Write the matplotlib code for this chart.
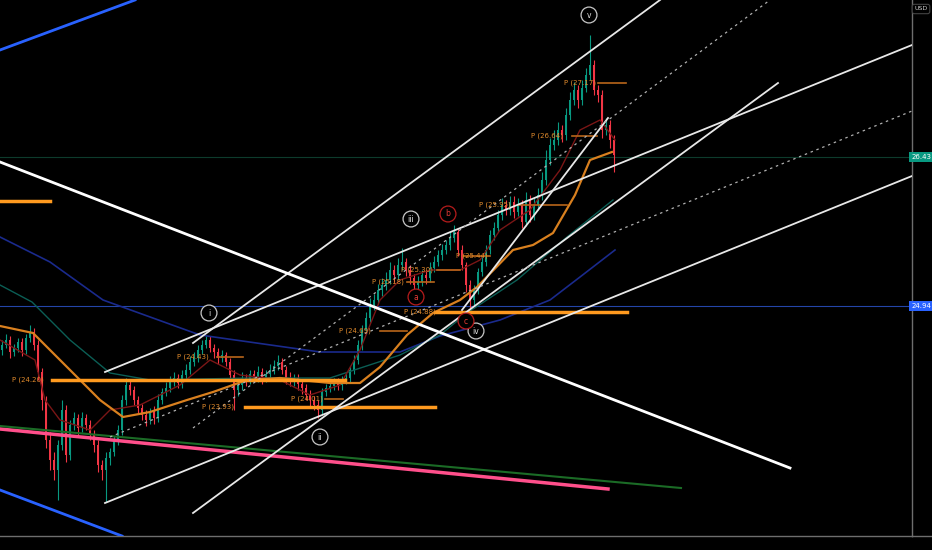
import numpy as np
import matplotlib.pyplot as plt

# candle data (price), one bar every 4 px
closes = [24.55, 24.60, 24.48, 24.52, 24.58, 24.50, 24.62, 24.68, 24.55, 24.28,
          24.00, 23.60, 23.40, 23.30, 23.55, 23.90, 23.45, 23.75, 23.82, 23.72,
          23.82, 23.75, 23.65, 23.55, 23.35, 23.30, 23.42, 23.48, 23.60, 23.70,
          24.00, 24.15, 24.10, 24.00, 23.92, 23.85, 23.80, 23.88, 23.82, 24.00,
          24.08, 24.12, 24.18, 24.22, 24.17, 24.25, 24.30, 24.38, 24.42, 24.50,
          24.55, 24.60, 24.52, 24.48, 24.42, 24.45, 24.38, 24.25, 24.10, 24.15,
          24.22, 24.20, 24.26, 24.22, 24.28, 24.22, 24.26, 24.30, 24.34, 24.38,
          24.30, 24.22, 24.20, 24.22, 24.16, 24.12, 24.05, 24.00, 23.95, 23.90,
          24.08, 24.12, 24.14, 24.18, 24.15, 24.20, 24.22, 24.30, 24.40, 24.55,
          24.70, 24.82, 24.95, 25.00, 25.10, 25.15, 25.20, 25.30, 25.25, 25.35,
          25.38, 25.30, 25.22, 25.15, 25.18, 25.25, 25.22, 25.32, 25.38, 25.45,
          25.50, 25.55, 25.62, 25.68, 25.50, 25.35, 25.15, 25.00, 25.10, 25.28,
          25.38, 25.50, 25.65, 25.72, 25.85, 25.95, 25.90, 25.98, 25.88, 25.95,
          25.78, 26.00, 25.85, 25.95, 26.05, 26.20, 26.40, 26.55, 26.60, 26.70,
          26.65, 26.85, 27.00, 27.10, 27.00, 27.12, 27.25, 27.35, 27.10, 27.05,
          26.70, 26.75, 26.60, 26.45]
highs = [24.60, 24.66, 24.64, 24.56, 24.62, 24.62, 24.66, 24.75, 24.72, 24.60,
         24.32, 24.04, 23.68, 23.48, 23.60, 24.00, 23.95, 23.80, 23.88, 23.86,
         23.88, 23.86, 23.80, 23.70, 23.60, 23.40, 23.48, 23.52, 23.64, 23.75,
         24.05, 24.22, 24.20, 24.14, 24.04, 23.96, 23.90, 23.92, 23.94, 24.06,
         24.12, 24.18, 24.24, 24.28, 24.26, 24.30, 24.36, 24.44, 24.48, 24.55,
         24.60, 24.64, 24.64, 24.56, 24.52, 24.50, 24.48, 24.42, 24.30, 24.22,
         24.28, 24.26, 24.30, 24.30, 24.34, 24.32, 24.30, 24.36, 24.40, 24.45,
         24.42, 24.34, 24.28, 24.26, 24.26, 24.20, 24.16, 24.10, 24.04, 24.00,
         24.12, 24.16, 24.18, 24.22, 24.22, 24.24, 24.28, 24.34, 24.45, 24.60,
         24.75, 24.88, 25.02, 25.06, 25.16, 25.22, 25.28, 25.38, 25.35, 25.42,
         25.52, 25.42, 25.35, 25.26, 25.24, 25.30, 25.30, 25.38, 25.44, 25.50,
         25.56, 25.60, 25.68, 25.75, 25.72, 25.55, 25.38, 25.20, 25.15, 25.32,
         25.44, 25.55, 25.70, 25.78, 25.90, 26.02, 26.00, 26.04, 26.04, 26.02,
         26.00, 26.08, 26.05, 26.02, 26.12, 26.28, 26.50, 26.62, 26.70, 26.78,
         26.75, 26.92, 27.08, 27.18, 27.15, 27.20, 27.32, 27.65, 27.40, 27.15,
         27.10, 26.82, 26.80, 26.65]
lows = [24.45, 24.52, 24.42, 24.44, 24.48, 24.44, 24.46, 24.58, 24.50, 24.20,
        23.90, 23.52, 23.30, 23.20, 23.00, 23.50, 23.38, 23.40, 23.70, 23.65,
        23.68, 23.70, 23.60, 23.48, 23.28, 23.20, 22.98, 23.35, 23.44, 23.55,
        23.65, 23.95, 24.05, 23.95, 23.86, 23.80, 23.74, 23.76, 23.76, 23.78,
        23.96, 24.04, 24.08, 24.14, 24.12, 24.12, 24.20, 24.26, 24.34, 24.38,
        24.46, 24.52, 24.48, 24.42, 24.36, 24.38, 24.34, 24.20, 23.90, 24.04,
        24.10, 24.14, 24.16, 24.18, 24.18, 24.16, 24.18, 24.22, 24.26, 24.30,
        24.26, 24.16, 24.14, 24.14, 24.10, 24.06, 24.00, 23.94, 23.90, 23.82,
        23.86, 24.04, 24.08, 24.10, 24.10, 24.10, 24.16, 24.18, 24.26, 24.36,
        24.50, 24.66, 24.78, 24.90, 24.96, 25.04, 25.10, 25.16, 25.18, 25.20,
        25.30, 25.24, 25.16, 25.00, 25.08, 25.14, 25.16, 25.18, 25.28, 25.34,
        25.40, 25.46, 25.50, 25.58, 25.44, 25.30, 25.08, 24.92, 24.95, 25.06,
        25.24, 25.34, 25.46, 25.60, 25.68, 25.80, 25.85, 25.85, 25.82, 25.84,
        25.72, 25.74, 25.78, 25.80, 25.90, 26.00, 26.15, 26.35, 26.50, 26.55,
        26.58, 26.60, 26.80, 26.95, 26.92, 26.95, 27.08, 27.20, 27.05, 26.98,
        26.62, 26.65, 26.52, 26.28]
first_open = 24.50

# moving averages (bar, price)
navy_x = [-0.5, 12.0, 25.25, 49.5, 79.5, 99.5, 109.5, 124.5, 137.0, 144.5, 153.25]
navy_y = [25.63, 25.38, 25.00, 24.65, 24.48, 24.48, 24.64, 24.80, 25.00, 25.23, 25.50]
teal_x = [-0.5, 7.5, 17.0, 27.0, 37.0, 62.0, 82.0, 99.5, 109.5, 116.25, 128.75, 141.25, 152.75]
teal_y = [25.15, 24.98, 24.60, 24.27, 24.20, 24.22, 24.22, 24.45, 24.65, 24.87, 25.20, 25.63, 26.00]
ema_x = [-0.5, 7.75, 16.25, 24.5, 30.25, 37.0, 46.25, 52.75, 61.25, 69.5, 82.0, 89.5,
         94.5, 101.25, 107.75, 114.5, 118.75, 127.75, 132.75, 137.75, 143.25, 147.0, 152.5]
ema_y = [24.74, 24.67, 24.33, 24.00, 23.83, 23.88, 24.00, 24.08, 24.20, 24.22, 24.17, 24.17,
         24.33, 24.65, 24.87, 25.00, 25.13, 25.50, 25.55, 25.67, 26.05, 26.40, 26.48]
fast_x = [-0.5, 8.25, 10.75, 14.5, 22.0, 27.0, 34.5, 44.5, 52.0, 59.5, 69.5, 77.0, 84.5,
          89.5, 94.5, 99.5, 107.0, 114.5, 119.5, 124.5, 132.0, 139.5, 144.5, 149.5, 153.25]
fast_y = [24.60, 24.40, 24.00, 23.80, 23.70, 23.90, 23.95, 24.15, 24.40, 24.25, 24.20, 24.05, 24.15,
          24.50, 25.00, 25.20, 25.30, 25.30, 25.40, 25.70, 25.90, 26.30, 26.70, 26.80, 26.60]

# trend lines: (x0, y0, x1, y1)
white_lines = [(25.75, 24.28, 227.5, 27.55), (47.75, 24.57, 164.5, 28.00),
               (25.75, 22.97, 227.5, 26.24), (47.75, 22.87, 194.0, 27.17),
               (115.0, 24.90, 151.5, 26.82)]
dotted_lines = [(27.0, 23.63, 227.5, 26.89), (47.75, 23.72, 192.0, 28.00)]
down_line = (-0.5, 26.38, 197.0, 23.32)
blue_lines = [(-0.5, 27.50, 33.25, 28.00), (-0.5, 23.10, 30.0, 22.64)]
pink_line = (-0.5, 23.71, 151.5, 23.11)
green_line = (-0.5, 23.74, 169.75, 23.12)
orange_levels = [(-0.5, 12.0, 25.99), (12.5, 85.75, 24.20), (60.75, 108.25, 23.93), (108.25, 156.25, 24.88)]

# pivot labels: (label bar, price, line start, line end)
pivots = [(6.5, 24.20, None, None), (47.75, 24.43, 53.75, 60.25), (54.0, 23.93, None, None),
          (76.25, 24.01, 80.75, 85.25), (88.25, 24.69, 94.5, 101.25), (96.5, 25.18, 101.25, 108.0),
          (103.75, 25.30, 108.75, 114.5), (104.5, 24.88, None, None), (117.5, 25.44, 115.25, 122.0),
          (123.25, 25.95, 129.0, 141.25), (136.25, 26.64, 142.5, 148.75), (144.5, 27.17, 149.0, 156.0)]

# wave labels: (text, bar, price, red)
waves = [('i', 51.75, 24.87, False), ('ii', 79.5, 23.63, False), ('iii', 102.25, 25.81, False),
         ('iv', 118.5, 24.69, False), ('v', 146.75, 27.85, False),
         ('a', 103.5, 25.03, True), ('b', 111.5, 25.86, True), ('c', 116.0, 24.79, True)]

last_price = 26.43
line_price = 24.94

fig = plt.figure(figsize=(9.32, 5.5), dpi=100, facecolor='black')
ax = fig.add_axes([0, 14 / 550, 912 / 932, 536 / 550])
ax.set_facecolor('black')
ax.set_xlim(-0.5, 227.5)
ax.set_ylim(22.64, 28.00)
ax.set_xticks([])
ax.set_yticks([])
for s in ['top', 'left']:
    ax.spines[s].set_visible(False)
for s in ['bottom', 'right']:
    ax.spines[s].set_color('#6e6e6e')
    ax.spines[s].set_linewidth(1)

# price lines
ax.axhline(last_price, color='#0d3b2c', lw=0.8, zorder=1)
ax.axhline(line_price, color='#2445a8', lw=0.8, zorder=1)

# candles
opens = [first_open] + closes[:-1]
idx = np.arange(len(closes))
up_col, dn_col = '#089981', '#f23645'
cols = [up_col if c >= o else dn_col for o, c in zip(opens, closes)]
ax.vlines(idx, lows, highs, colors=cols, lw=0.8, zorder=2)
bottoms = np.minimum(opens, closes)
heights = np.maximum(np.abs(np.array(closes) - np.array(opens)), 0.01)
ax.bar(idx, heights, bottom=bottoms, width=0.7, color=cols, zorder=3)

# moving averages
ax.plot(navy_x, navy_y, color='#1a2a8c', lw=1.2, zorder=4)
ax.plot(teal_x, teal_y, color='#0b5e55', lw=1.0, zorder=4)
ax.plot(fast_x, fast_y, color='#7a1616', lw=1.0, zorder=4)
ax.plot(ema_x, ema_y, color='#d9801f', lw=1.6, zorder=4)

# drawings
for x0, y0, x1, y1 in blue_lines:
    ax.plot([x0, x1], [y0, y1], color='#2962ff', lw=2, zorder=5)
ax.plot(pink_line[::2], pink_line[1::2], color='#ff4f8b', lw=2.5, zorder=5)
ax.plot(green_line[::2], green_line[1::2], color='#1b6b26', lw=1.5, zorder=5)
for x0, x1, p in orange_levels:
    ax.plot([x0, x1], [p, p], color='#ff9a1f', lw=2.5, zorder=5)
for x0, y0, x1, y1 in white_lines:
    ax.plot([x0, x1], [y0, y1], color='#e8e8e8', lw=1.3, zorder=6)
for x0, y0, x1, y1 in dotted_lines:
    ax.plot([x0, x1], [y0, y1], color='#b0b0b0', lw=0.9, ls=(0, (2, 3)), zorder=6)
ax.plot(down_line[::2], down_line[1::2], color='white', lw=2, zorder=6)

for lx, p, x0, x1 in pivots:
    if x0 is not None:
        ax.plot([x0, x1], [p, p], color='#b8661a', lw=1.2, zorder=5)
    ax.text(lx, p, 'P (%.2f)' % p, color='#e08a2c', fontsize=5, ha='center', va='center', zorder=7)

for t, bx, p, red in waves:
    ec = '#b71c1c' if red else '#c8c8c8'
    tc = '#e53935' if red else '#e0e0e0'
    ax.text(bx, p, t, color=tc, fontsize=5.5, ha='center', va='center', zorder=8,
            bbox=dict(boxstyle='circle,pad=0.45', fc='black', ec=ec, lw=0.9))

# right price scale labels
tr = ax.get_yaxis_transform()
ax.text(1.0099, last_price, '%.2f' % last_price, transform=tr, color='white', fontsize=5,
        ha='center', va='center', clip_on=False,
        bbox=dict(boxstyle='square,pad=0.3', fc='#089981', ec='none'))
ax.text(1.0099, line_price, '%.2f' % line_price, transform=tr, color='white', fontsize=5,
        ha='center', va='center', clip_on=False,
        bbox=dict(boxstyle='square,pad=0.3', fc='#2962ff', ec='none'))
fig.text(921 / 932, 1 - 9 / 550, 'USD', color='#cfcfcf', fontsize=4.5, ha='center', va='center',
         bbox=dict(boxstyle='round,pad=0.35', fc='black', ec='#444444', lw=0.8))
fig.add_artist(plt.Line2D([912 / 932, 1], [14 / 550, 14 / 550], color='#6e6e6e', lw=1))

fig.savefig('out.png', dpi=100, facecolor='black')
